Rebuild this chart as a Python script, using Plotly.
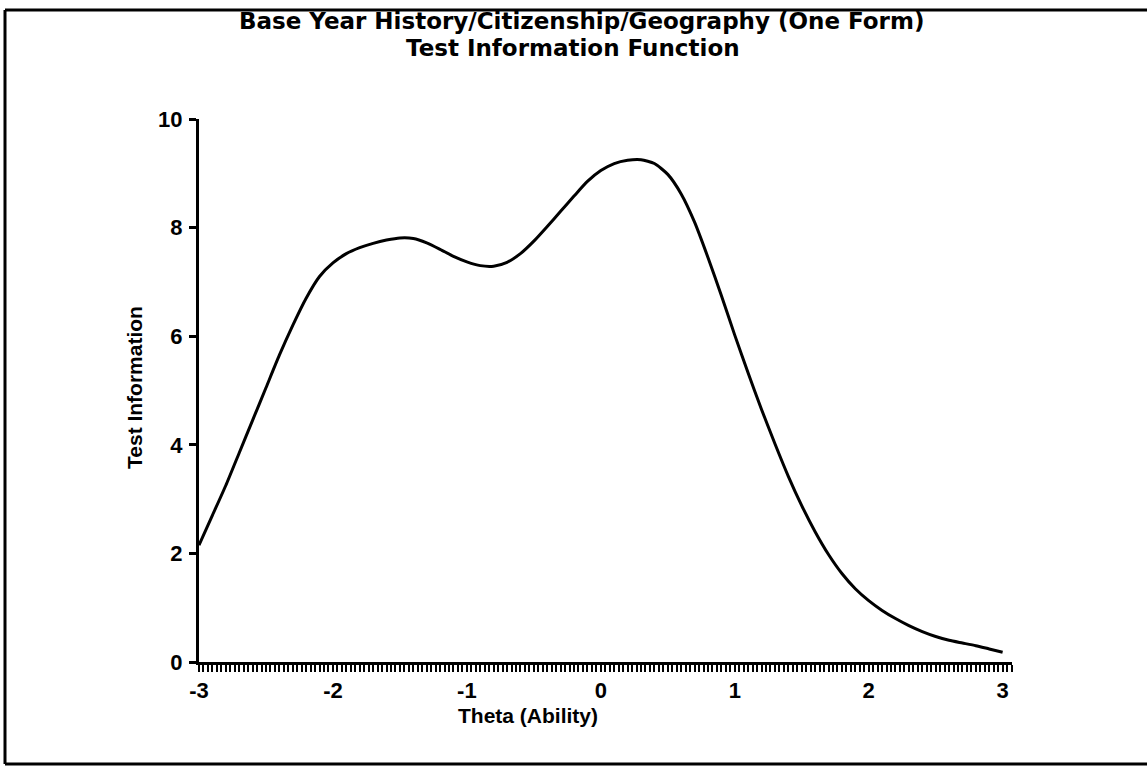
import plotly.graph_objects as go

# Test information curve read at selected ability levels
theta = [-3.0, -2.9, -2.8, -2.7, -2.6, -2.5, -2.4, -2.3, -2.2, -2.1, -2.0,
         -1.9, -1.8, -1.7, -1.6, -1.5, -1.4, -1.3, -1.2, -1.1, -1.0, -0.9,
         -0.8, -0.7, -0.6, -0.5, -0.4, -0.3, -0.2, -0.1, 0.0, 0.1, 0.2, 0.3,
         0.4, 0.5, 0.6, 0.7, 0.8, 0.9, 1.0, 1.1, 1.2, 1.3, 1.4, 1.5, 1.6,
         1.7, 1.8, 1.9, 2.0, 2.1, 2.2, 2.3, 2.4, 2.5, 2.6, 2.7, 2.8, 2.9, 3.0]
information = [2.15, 2.7, 3.25, 3.85, 4.45, 5.05, 5.65, 6.2, 6.7, 7.1, 7.35,
               7.52, 7.63, 7.71, 7.77, 7.81, 7.8, 7.72, 7.6, 7.47, 7.37, 7.3,
               7.29, 7.36, 7.52, 7.75, 8.02, 8.3, 8.58, 8.85, 9.05, 9.18, 9.24, 9.25,
               9.18, 8.98, 8.62, 8.1, 7.45, 6.75, 6.02, 5.32, 4.65, 4.02, 3.42, 2.88, 2.4,
               1.98, 1.63, 1.35, 1.13, 0.95, 0.8, 0.67, 0.56, 0.47, 0.4, 0.35, 0.3, 0.24, 0.18]

x_ticks = [-3, -2, -1, 0, 1, 2, 3]
y_ticks = [0, 2, 4, 6, 8, 10]

title_line1 = "Base Year History/Citizenship/Geography (One Form)"
title_line2 = "Test Information Function"
x_title = "Theta (Ability)"
y_title = "Test Information"

TITLE_FONT = "DejaVu Sans"
LABEL_FONT = "Liberation Sans"
W, H = 1147, 766
L, R, T, B = 199, 1012, 119, 662


def px(xp):
    return (xp - L) / (R - L)


def py(yp):
    return (B - yp) / (B - T)


fig = go.Figure()
fig.add_trace(go.Scatter(
    x=theta, y=information, mode="lines",
    line=dict(color="black", width=3, shape="spline", smoothing=0.6),
    hoverinfo="skip", showlegend=False,
))

tick_font = dict(family=LABEL_FONT, size=22, color="black", weight="bold")

fig.update_layout(
    width=W, height=H,
    margin=dict(l=L, r=W - R, t=T, b=H - B, pad=0),
    paper_bgcolor="white", plot_bgcolor="white",
    font=dict(family=LABEL_FONT, color="black"),
    xaxis=dict(
        range=[-3, 3.07], tickvals=x_ticks, ticktext=[str(v) for v in x_ticks],
        showgrid=False, zeroline=False, showline=True, linecolor="black", linewidth=3,
        ticks="outside", ticklen=7, tickwidth=2, tickcolor="black",
        minor=dict(dtick=1 / 30, tick0=-3, ticks="outside", ticklen=7, tickwidth=2,
                   tickcolor="black", showgrid=False),
        tickfont=tick_font,
        ticklabelstandoff=0,
    ),
    yaxis=dict(
        range=[0, 10], tickvals=y_ticks, ticktext=[str(v) for v in y_ticks],
        showgrid=False, zeroline=False, showline=True, linecolor="black", linewidth=3,
        ticks="outside", ticklen=7, tickwidth=3, tickcolor="black",
        tickfont=tick_font,
        ticklabelstandoff=2,
    ),
)

annotations = [
    dict(text=f"<b>{title_line1}</b>", x=px(581), y=py(21), size=23, family=TITLE_FONT),
    dict(text=f"<b>{title_line2}</b>", x=px(573), y=py(48), size=23, family=TITLE_FONT),
    dict(text=f"<b>{x_title}</b>", x=px(528), y=py(715), size=21, family=LABEL_FONT),
    dict(text=f"<b>{y_title}</b>", x=px(134), y=py(388), size=21, family=LABEL_FONT, angle=-90),
]
for a in annotations:
    fig.add_annotation(
        text=a["text"], x=a["x"], y=a["y"], xref="paper", yref="paper",
        xanchor="center", yanchor="middle", showarrow=False,
        textangle=a.get("angle", 0),
        font=dict(family=a["family"], size=a["size"], color="black"),
    )

# frame around the page
frame = [
    (5, 10, W, 10),
    (5, 10, 5, 764),
    (5, 764, W, 764),
]
for x0, y0, x1, y1 in frame:
    fig.add_shape(type="line", xref="paper", yref="paper",
                  x0=px(x0), y0=py(y0), x1=px(x1), y1=py(y1),
                  line=dict(color="black", width=3))

fig.write_html("out.html")
